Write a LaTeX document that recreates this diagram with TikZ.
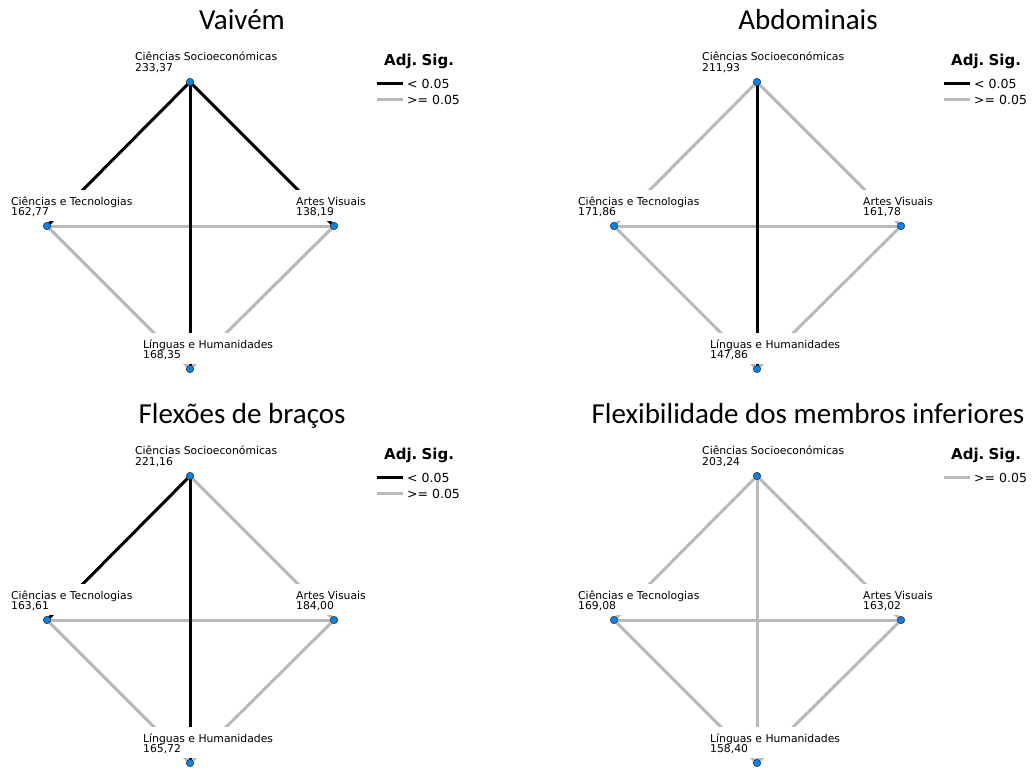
\documentclass[tikz,border=0pt]{standalone}
\usepackage{fontspec}
\setmainfont{DejaVu Sans}
\newfontfamily\titlefont{Carlito}
\newfontfamily\labfont{DejaVu Sans}
\definecolor{nsgray}{RGB}{185,185,185}
\definecolor{dotblue}{RGB}{10,130,230}
\newcommand\twolines[2]{\vtop{\baselineskip=10.3pt\hbox{\rule{0pt}{11pt}#1}\hbox{#2}}}
\newcommand\panelpoints[1]{%
  \coordinate (#1cs) at (190,82);
  \coordinate (#1ct) at (47,226);
  \coordinate (#1av) at (334,226);
  \coordinate (#1lh) at (190,369);
}
\newcommand\panellabels[5]{%
  \node[grouplabel,xshift=-56pt,yshift=21.3pt] (#1csl) at (#1cs) {\twolines{Ciências Socioeconómicas}{#2}};
  \node[grouplabel,xshift=-37pt,yshift=21pt] (#1ctl) at (#1ct) {\twolines{Ciências e Tecnologias}{#3}};
  \node[grouplabel,xshift=-39pt,yshift=21pt] (#1avl) at (#1av) {\twolines{Artes Visuais}{#4}};
  \node[grouplabel,xshift=-48pt,yshift=21pt] (#1lhl) at (#1lh) {\twolines{Línguas e Humanidades}{#5}};
  \node[dot] (#1csd) at (#1cs) {};
  \node[dot] (#1ctd) at (#1ct) {};
  \node[dot] (#1avd) at (#1av) {};
  \node[dot] (#1lhd) at (#1lh) {};
}
\begin{document}
\begin{tikzpicture}[x=1pt,y=-1pt,
  sig/.style={draw=black,line width=3pt},
  ns/.style={draw=nsgray,line width=3pt},
  grouplabel/.style={fill=white,inner xsep=1pt,inner ysep=4pt,anchor=base west,font=\labfont\fontsize{10.8}{10.3}\selectfont},
  dot/.style={circle,fill=dotblue,draw=black!80,line width=0.6pt,inner sep=0pt,minimum size=7.4pt},
  paneltitle/.style={font=\titlefont\fontsize{29}{32}\selectfont,anchor=base},
  legtitle/.style={font=\labfont\bfseries\fontsize{15}{16}\selectfont,anchor=base west,inner sep=0pt},
  legtext/.style={font=\labfont\fontsize{12.5}{14}\selectfont,anchor=base west,inner sep=0pt},
]
\useasboundingbox[fill=white] (0,0) rectangle (1032,769);

% ---------- Panel A: Vaivém ----------
\begin{scope}
  \panelpoints{a}
  \node[paneltitle] (atitle) at (242,29) {Vaivém};
  \draw[ns] (act) -- (aav);
  \draw[ns] (act) -- (alh);
  \draw[ns] (aav) -- (alh);
  \draw[sig] (acs) -- (act);
  \draw[sig] (acs) -- (aav);
  \draw[sig] (acs) -- (alh);
  \panellabels{a}{233,37}{162,77}{138,19}{168,35}
  \node[legtitle] (aleg) at (384,65) {Adj.\kern-1pt\ Sig.};
  \coordinate (al1a) at (377,83); \coordinate (al1b) at (403,83);
  \coordinate (al2a) at (377,99); \coordinate (al2b) at (403,99);
  \draw[sig] (al1a) -- (al1b);
  \draw[ns] (al2a) -- (al2b);
  \node[legtext] (al1t) at (407,88) {< 0.05};
  \node[legtext] (al2t) at (407,104) {>= 0.05};
\end{scope}

% ---------- Panel B: Abdominais ----------
\begin{scope}[shift={(567,0)}]
  \panelpoints{b}
  \node[paneltitle] (btitle) at (241,29) {Abdominais};
  \draw[ns] (bcs) -- (bct);
  \draw[ns] (bcs) -- (bav);
  \draw[ns] (bct) -- (bav);
  \draw[ns] (bct) -- (blh);
  \draw[ns] (bav) -- (blh);
  \draw[sig] (bcs) -- (blh);
  \panellabels{b}{211,93}{171,86}{161,78}{147,86}
  \node[legtitle] (bleg) at (384,65) {Adj.\kern-1pt\ Sig.};
  \coordinate (bl1a) at (377,83); \coordinate (bl1b) at (403,83);
  \coordinate (bl2a) at (377,99); \coordinate (bl2b) at (403,99);
  \draw[sig] (bl1a) -- (bl1b);
  \draw[ns] (bl2a) -- (bl2b);
  \node[legtext] (bl1t) at (407,88) {< 0.05};
  \node[legtext] (bl2t) at (407,104) {>= 0.05};
\end{scope}

% ---------- Panel C: Flexões de braços ----------
\begin{scope}[shift={(0,394)}]
  \panelpoints{c}
  \node[paneltitle] (ctitle) at (242,29) {Flexões de braços};
  \draw[ns] (ccs) -- (cav);
  \draw[ns] (cct) -- (cav);
  \draw[ns] (cct) -- (clh);
  \draw[ns] (cav) -- (clh);
  \draw[sig] (ccs) -- (cct);
  \draw[sig] (ccs) -- (clh);
  \panellabels{c}{221,16}{163,61}{184,00}{165,72}
  \node[legtitle] (cleg) at (384,65) {Adj.\kern-1pt\ Sig.};
  \coordinate (cl1a) at (377,83); \coordinate (cl1b) at (403,83);
  \coordinate (cl2a) at (377,99); \coordinate (cl2b) at (403,99);
  \draw[sig] (cl1a) -- (cl1b);
  \draw[ns] (cl2a) -- (cl2b);
  \node[legtext] (cl1t) at (407,88) {< 0.05};
  \node[legtext] (cl2t) at (407,104) {>= 0.05};
\end{scope}

% ---------- Panel D: Flexibilidade ----------
\begin{scope}[shift={(567,394)}]
  \panelpoints{d}
  \node[paneltitle] (dtitle) at (241,29) {Flexibilidade dos membros inferiores};
  \draw[ns] (dcs) -- (dct);
  \draw[ns] (dcs) -- (dav);
  \draw[ns] (dcs) -- (dlh);
  \draw[ns] (dct) -- (dav);
  \draw[ns] (dct) -- (dlh);
  \draw[ns] (dav) -- (dlh);
  \panellabels{d}{203,24}{169,08}{163,02}{158,40}
  \node[legtitle] (dleg) at (384,65) {Adj.\kern-1pt\ Sig.};
  \coordinate (dl1a) at (377,83); \coordinate (dl1b) at (403,83);
  \draw[ns] (dl1a) -- (dl1b);
  \node[legtext] (dl1t) at (407,88) {>= 0.05};
\end{scope}
\end{tikzpicture}
\end{document}
